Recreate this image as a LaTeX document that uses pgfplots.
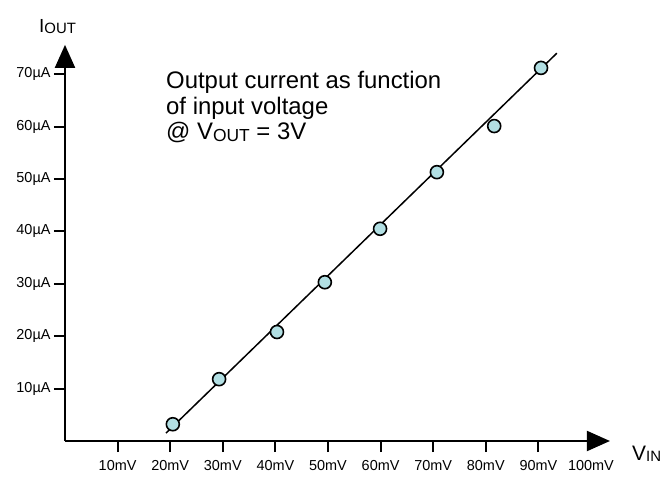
\documentclass[border=0pt]{standalone}
\usepackage{fontspec}
\setmainfont{Liberation Sans}
\usepackage{pgfplots}
\usepackage{pgfplotstable}
\pgfplotsset{compat=1.18}
\usetikzlibrary{arrows.meta}
\definecolor{markfill}{RGB}{178,223,227}

% measured points (mV, uA)
\pgfplotstableread{
vin iout
20.5 3.2
29.3 11.8
40.3 20.8
49.4 30.3
59.9 40.5
70.7 51.3
81.6 60.1
90.5 71.2
}\measured

\begin{document}
\begin{tikzpicture}
\begin{axis}[
  x=5.26bp, y=5.24bp,
  xmin=0, xmax=103.6, ymin=0, ymax=75.6,
  axis lines=left,
  axis line style={line width=2bp, -{Triangle[length=23bp,width=20bp]}},
  tick align=outside, major tick length=11bp,
  tick style={line width=2bp, black},
  xtick={10,20,...,90},
  xticklabels={10mV,20mV,30mV,40mV,50mV,60mV,70mV,80mV,90mV},
  extra x ticks={100}, extra x tick labels={100mV},
  extra x tick style={tick style={draw=none}},
  ytick={10,20,...,70},
  yticklabels={10µA,20µA,30µA,40µA,50µA,60µA,70µA},
  ticklabel style={font=\fontsize{14.5}{16}\selectfont, text=black},
  xticklabel style={yshift=-4.5bp},
  clip=false,
]
\addplot[only marks, mark=*, mark size=6.5bp,
  mark options={fill=markfill, draw=black, line width=1.6bp}]
  table[x=vin, y=iout] {\measured};
\addplot[black, line width=1.5bp] coordinates {(19.2,1.5) (93.5,74.0)};

\node[anchor=base west, inner sep=0, font=\fontsize{19}{21}\selectfont]
  at (axis cs:-4.94,77.9) {I\raisebox{-0.1ex}{\fontsize{15}{17}\selectfont OUT}};
\node[anchor=base west, inner sep=0, font=\fontsize{21}{23}\selectfont]
  at (axis cs:107.8,-3.63) {V\raisebox{-0.15ex}{\fontsize{15}{17}\selectfont IN}};

\node[anchor=base west, inner sep=0, font=\fontsize{24}{26}\selectfont]
  at (axis cs:19.2,67.18) {Output current as function};
\node[anchor=base west, inner sep=0, font=\fontsize{24}{26}\selectfont]
  at (axis cs:19.2,62.40) {of input voltage};
\node[anchor=base west, inner sep=0, font=\fontsize{24}{26}\selectfont]
  at (axis cs:19.2,57.63) {@ V\raisebox{-0.2ex}{\fontsize{17.5}{19}\selectfont OUT} = 3V};

\coordinate (bbl) at (axis cs:-12.357,-6.870);
\coordinate (btr) at (axis cs:115.40,84.16);
\end{axis}
\pgfresetboundingbox
\useasboundingbox (bbl) rectangle (btr);
\end{tikzpicture}
\end{document}
